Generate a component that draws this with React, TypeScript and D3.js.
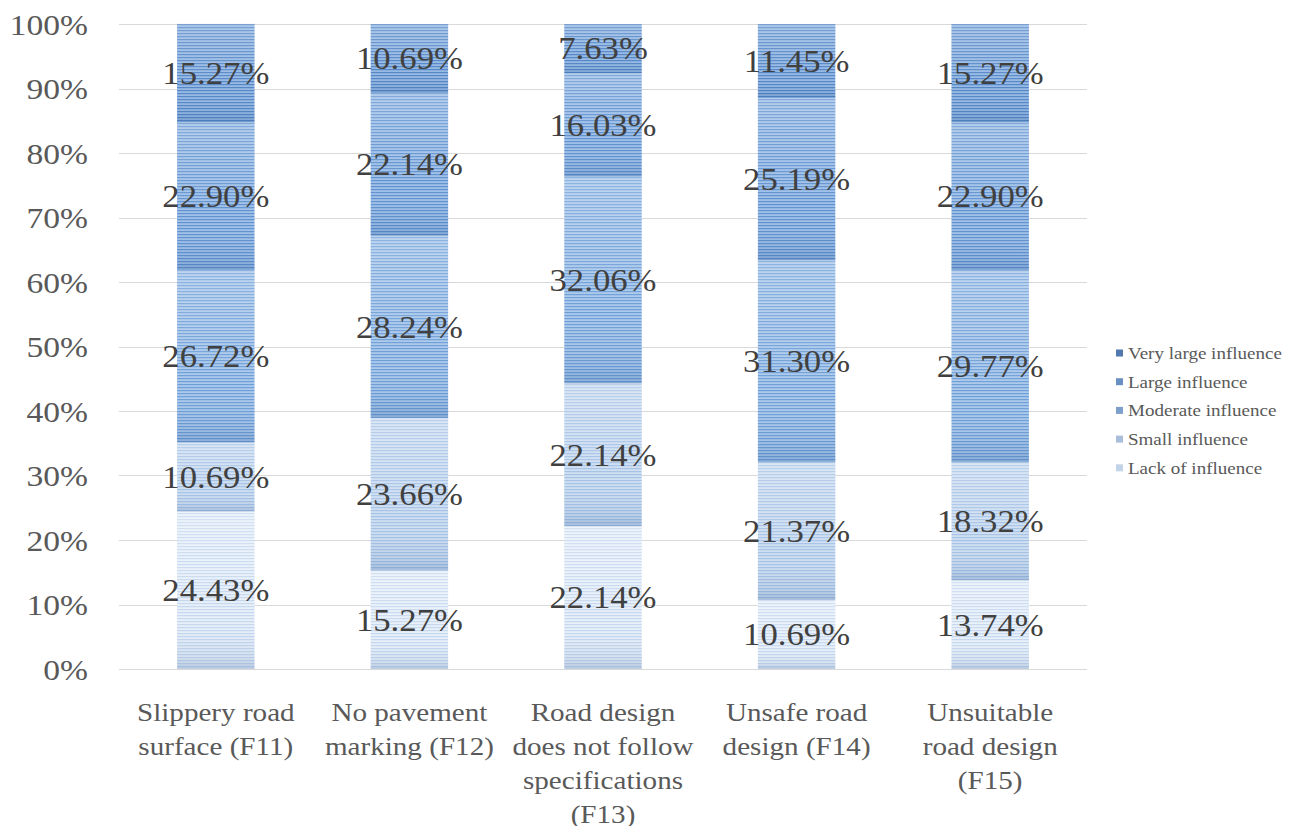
import React from "react";
import * as d3 from "d3";

const categories = [
  ["Slippery road", "surface (F11)"],
  ["No pavement", "marking (F12)"],
  ["Road design", "does not follow", "specifications", "(F13)"],
  ["Unsafe road", "design (F14)"],
  ["Unsuitable", "road design", "(F15)"],
];
const categoryKeys = ["F11", "F12", "F13", "F14", "F15"];

const seriesNames = [
  "Lack of influence",
  "Small influence",
  "Moderate influence",
  "Large influence",
  "Very large influence",
];

// percentages per factor, ordered F11..F15
const lackOfInfluence = [24.43, 15.27, 22.14, 10.69, 13.74];
const smallInfluence = [10.69, 23.66, 22.14, 21.37, 18.32];
const moderateInfluence = [26.72, 28.24, 32.06, 31.3, 29.77];
const largeInfluence = [22.9, 22.14, 16.03, 25.19, 22.9];
const veryLargeInfluence = [15.27, 10.69, 7.63, 11.45, 15.27];

const seriesValues = [
  lackOfInfluence,
  smallInfluence,
  moderateInfluence,
  largeInfluence,
  veryLargeInfluence,
];

const yTicks = [0, 10, 20, 30, 40, 50, 60, 70, 80, 90, 100];

// fill styling per series: base, stripe, legend swatch
const fills = [
  { base: "#e8f0fa", stripe: "#c6d8ef", swatch: "#c3d3e8" },
  { base: "#cfdff2", stripe: "#a6c3e6", swatch: "#a8bedb" },
  { base: "#abc9eb", stripe: "#6f9fd8", swatch: "#7d9fcc" },
  { base: "#9fc0e8", stripe: "#6192cf", swatch: "#6a8fc3" },
  { base: "#96b9e4", stripe: "#5587c6", swatch: "#5179b0" },
];

const FONT = "Liberation Serif";
const STRETCH = 1.12;

export default function App() {
  const width = 1301;
  const height = 830;
  const x0 = 119;
  const x1 = 1087;
  const yBottom = 669;
  const yTop = 24;

  const x = d3
    .scaleBand<string>()
    .domain(categoryKeys)
    .range([x0, x1])
    .paddingInner(0.6)
    .paddingOuter(0.3);
  const y = d3.scaleLinear().domain([0, 100]).range([yBottom, yTop]);

  const rows = categoryKeys.map((k, i) => {
    const r: Record<string, number | string> = { key: k };
    seriesNames.forEach((s, j) => (r[s] = seriesValues[j][i]));
    return r;
  });
  const stacked = d3.stack<Record<string, number | string>>().keys(seriesNames)(rows as any);

  // label text with a slight horizontal widening of the serif face
  const label = (
    key: string,
    tx: number,
    ty: number,
    size: number,
    fill: string,
    anchor: "start" | "middle" | "end",
    content: string
  ) => (
    <text
      key={key}
      x={0}
      y={0}
      dy="0.35em"
      transform={`translate(${tx},${ty}) scale(${STRETCH},1)`}
      textAnchor={anchor}
      style={{ fontFamily: FONT, fontSize: size }}
      fill={fill}
    >
      {content}
    </text>
  );

  const cx = (ci: number) => x(categoryKeys[ci])! + x.bandwidth() / 2;

  return (
    <div style={{ margin: -8 }}>
      <svg width={width} height={height}>
        <defs>
          {fills.map((f, i) => (
            <pattern key={i} id={`stripe${i}`} patternUnits="userSpaceOnUse" width={6} height={3}>
              <rect width={6} height={3} fill={f.base} />
              <rect y={0} width={6} height={1.2} fill={f.stripe} />
            </pattern>
          ))}
          <linearGradient id="shade" x1="0" y1="0" x2="0" y2="1">
            <stop offset="0" stopColor="#ffffff" stopOpacity={0.22} />
            <stop offset="0.65" stopColor="#ffffff" stopOpacity={0} />
            <stop offset="0.93" stopColor="#1f4f8f" stopOpacity={0.1} />
            <stop offset="1" stopColor="#1f4f8f" stopOpacity={0.22} />
          </linearGradient>
        </defs>

        {/* gridlines */}
        {yTicks.map((t) => (
          <line key={`g${t}`} x1={x0} x2={x1} y1={Math.round(y(t)) + 0.5} y2={Math.round(y(t)) + 0.5} stroke="#d9d9d9" strokeWidth={1} />
        ))}

        {/* stacked bars */}
        {stacked.map((layer, si) =>
          layer.map((d, ci) => {
            const xx = x(categoryKeys[ci])!;
            const top = y(d[1]);
            const h = y(d[0]) - y(d[1]);
            return (
              <g key={`b${si}-${ci}`}>
                <rect x={xx} y={top} width={x.bandwidth()} height={h} fill={`url(#stripe${si})`} />
                <rect x={xx} y={top} width={x.bandwidth()} height={h} fill="url(#shade)" />
              </g>
            );
          })
        )}

        {/* legend swatches, top entry is the top series */}
        {seriesNames
          .map((s, i) => ({ s, i }))
          .reverse()
          .map(({ s, i }, k) => (
            <rect key={`sw${s}`} x={1116} y={353 + k * 28.7 - 3.5} width={7} height={7} fill={fills[i].swatch} />
          ))}

        {/* y tick labels */}
        {yTicks.map((t) => label(`t${t}`, 88, y(t), 30, "#595959", "end", `${t}%`))}

        {/* data labels */}
        {stacked.map((layer, si) =>
          layer.map((d, ci) =>
            label(`d${si}-${ci}`, cx(ci), y((d[0] + d[1]) / 2), 31, "#404040", "middle", `${seriesValues[si][ci].toFixed(2)}%`)
          )
        )}

        {/* category labels */}
        {categories.map((lines, ci) =>
          lines.map((l, li) => label(`c${ci}-${li}`, cx(ci), 712 + li * 34, 26, "#595959", "middle", l))
        )}

        {/* legend text */}
        {seriesNames
          .slice()
          .reverse()
          .map((s, k) => label(`l${s}`, 1128, 353 + k * 28.7, 17, "#595959", "start", s))}
      </svg>
    </div>
  );
}
